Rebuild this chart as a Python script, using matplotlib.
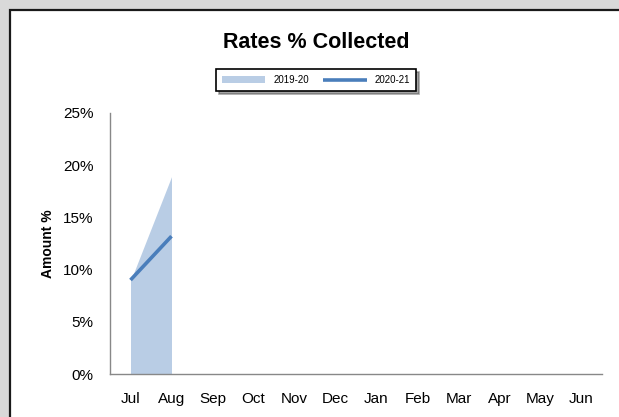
import matplotlib
matplotlib.use("Agg")
import matplotlib.pyplot as plt
from matplotlib.patches import Rectangle
from matplotlib.ticker import FuncFormatter

months = ["Jul", "Aug", "Sep", "Oct", "Nov", "Dec", "Jan", "Feb", "Mar", "Apr", "May", "Jun"]
rates_2019 = [8.9, 18.9]   # % collected, 2019-20
rates_2020 = [9.0, 13.2]   # % collected, 2020-21

plt.rcParams["font.family"] = ["Liberation Sans", "DejaVu Sans"]

W, H = 619, 417
fig = plt.figure(figsize=(W / 100, H / 100), dpi=100)
fig.patch.set_facecolor("#d9d9d9")

# white chart area with dark frame
fig.patches.append(Rectangle((10 / W, -0.1), 1.2, 1.1 - 10 / H,
                             transform=fig.transFigure, facecolor="white",
                             edgecolor="#1a1a1a", linewidth=1.6, zorder=-5))

ax = fig.add_axes([110 / W, 43 / H, 492 / W, 261 / H])
ax.set_facecolor("none")
ax.set_zorder(2)

x19 = list(range(len(rates_2019)))
x20 = list(range(len(rates_2020)))
ax.fill_between(x19, 0, rates_2019, color="#b9cde5", linewidth=0, label="2019-20")
ax.plot(x20, rates_2020, color="#4a7ebb", linewidth=2.6, solid_capstyle="butt", label="2020-21")

ax.set_xlim(-0.5, len(months) - 0.5)
ax.set_ylim(0, 25)
ax.set_xticks(range(len(months)))
ax.set_xticklabels(months)
ax.set_yticks([0, 5, 10, 15, 20, 25])
ax.yaxis.set_major_formatter(FuncFormatter(lambda v, p: f"{v:.0f}%"))
ax.tick_params(length=0, labelsize=11, colors="black")
ax.tick_params(axis="x", pad=13)
ax.tick_params(axis="y", pad=12)

for side in ["top", "right"]:
    ax.spines[side].set_visible(False)
for side in ["left", "bottom"]:
    ax.spines[side].set_color("#888888")
    ax.spines[side].set_linewidth(1.0)

ax.set_ylabel("Amount %", fontsize=10, fontweight="bold", labelpad=6)

fig.text(316 / W, 1 - 42 / H, "Rates % Collected", ha="center", va="center",
         fontsize=15.5, fontweight="bold")

leg = fig.legend(loc="center", bbox_to_anchor=(316 / W, 1 - 80 / H), ncol=2,
                 fontsize=7, frameon=True, fancybox=False, shadow=True,
                 edgecolor="black", handlelength=4.5, columnspacing=1.5,
                 borderpad=0.6)
leg.get_frame().set_linewidth(1.2)

fig.savefig("out.png", dpi=100, facecolor=fig.get_facecolor())
